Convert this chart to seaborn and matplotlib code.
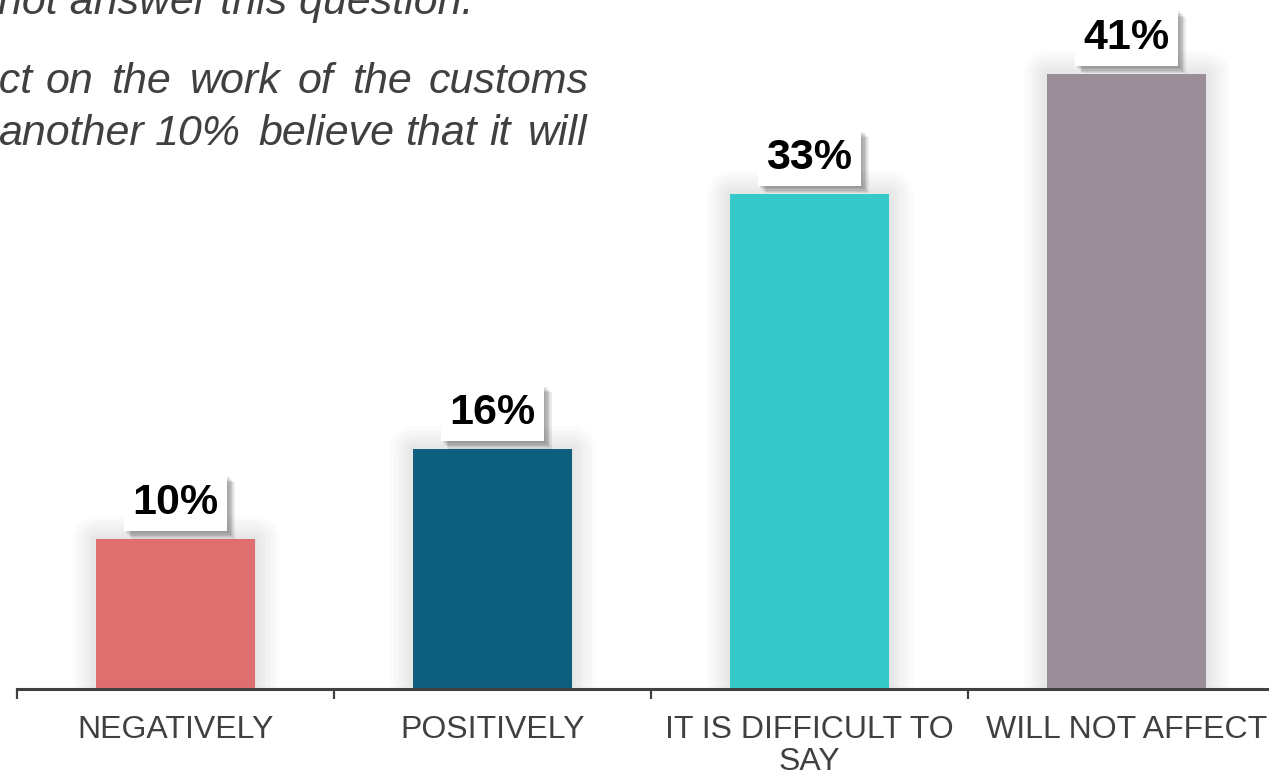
import matplotlib
matplotlib.use("Agg")
import matplotlib.pyplot as plt
import matplotlib.patheffects as pe
from matplotlib.path import Path
import seaborn as sns
import pandas as pd

# --- data -------------------------------------------------------------
categories = ["NEGATIVELY", "POSITIVELY", "IT IS DIFFICULT TO\nSAY", "WILL NOT AFFECT"]
shares = [10, 16, 33, 41]
bar_colors = ["#DF6F6F", "#0E5E7E", "#36C9C9", "#9C8E98"]

# commentary text above the chart: (word, left x in px) per justified line
note_line1 = "not answer this question."
note_line2 = [("on", 46), ("the", 111), ("work", 190), ("of", 298),
              ("the", 352), ("customs", 429)]
note_line2_lead = "effect"
note_line3 = [("another", -2), ("10%", 155), ("believe", 258), ("that", 405),
              ("it", 489), ("will", 528)]

TEXT_GRAY = "#404040"
NOTE_SIZE = 31

sns.set_theme(style="white")
plt.rcParams["font.family"] = ["Liberation Sans", "DejaVu Sans"]

W, H = 1269, 778
fig = plt.figure(figsize=(W / 100, H / 100), dpi=100)
ax = fig.add_axes([17 / W, 89 / H, 1268 / W, 689 / H])

df = pd.DataFrame({"answer": categories, "share": shares})
sns.barplot(data=df, x="answer", y="share", hue="answer", palette=bar_colors,
            width=0.5, saturation=1, legend=False, linewidth=0, ax=ax)

# soft glow around every bar
halo = [pe.Stroke(linewidth=lw, foreground="black", alpha=0.016, joinstyle="round")
        for lw in (34, 28, 22, 16, 11, 6)] + [pe.Normal()]
for bar in ax.patches:
    bar.set_path_effects(halo)

ax.set_xlim(-0.5, 3.5)
ax.set_ylim(0, 45.9)
ax.set_xlabel("")
ax.set_ylabel("")
ax.set_yticks([])
sns.despine(ax=ax, left=True, top=True, right=True)
ax.spines["bottom"].set_color(TEXT_GRAY)
ax.spines["bottom"].set_linewidth(2.2)
ax.spines["bottom"].set_path_effects(
    [pe.SimplePatchShadow(offset=(0, -1.2), shadow_rgbFace="black", alpha=0.25), pe.Normal()])

ax.set_xticks([-0.5, 0.5, 1.5, 2.5, 3.5], minor=True)
ax.tick_params(axis="x", which="major", length=0, pad=19, labelsize=23,
               labelcolor=TEXT_GRAY)
ax.tick_params(axis="x", which="minor", bottom=True, length=7, width=1.6,
               color=TEXT_GRAY, direction="out")
for lbl in ax.get_xticklabels():
    lbl.set_linespacing(1.05)


def label_box(x0, y0, width, height, mutation_size):
    """Rectangle padded around the value text."""
    px, py = 0.2 * mutation_size, 0.19 * mutation_size
    verts = [(x0 - px, y0 - py), (x0 + width + px, y0 - py),
             (x0 + width + px, y0 + height + py), (x0 - px, y0 + height + py),
             (x0 - px, y0 - py)]
    return Path(verts, closed=True)


box_shadow = [pe.SimplePatchShadow(offset=(d, -d), shadow_rgbFace="black", alpha=0.08)
              for d in (1.5, 2.5, 3.5, 4.5, 5.5)] + [pe.Normal()]

for i, v in enumerate(shares):
    ax.annotate(f"{v}%", xy=(i, v), xytext=(0, 11.5), textcoords="offset points",
                ha="center", va="bottom", fontsize=31, fontweight="bold",
                color="black", annotation_clip=False, zorder=5,
                bbox=dict(boxstyle=label_box, facecolor="white",
                          edgecolor="none", path_effects=box_shadow))


def note_word(x, baseline, word, ha="left"):
    fig.text(x / W, 1 - baseline / H, word, fontsize=NOTE_SIZE, style="italic",
             color=TEXT_GRAY, ha=ha, va="baseline")


note_word(474, 14, note_line1, ha="right")
note_word(33, 93, note_line2_lead, ha="right")
for word, x in note_line2:
    note_word(x, 93, word)
for word, x in note_line3:
    note_word(x, 145, word)

fig.savefig("out.png", dpi=100)
